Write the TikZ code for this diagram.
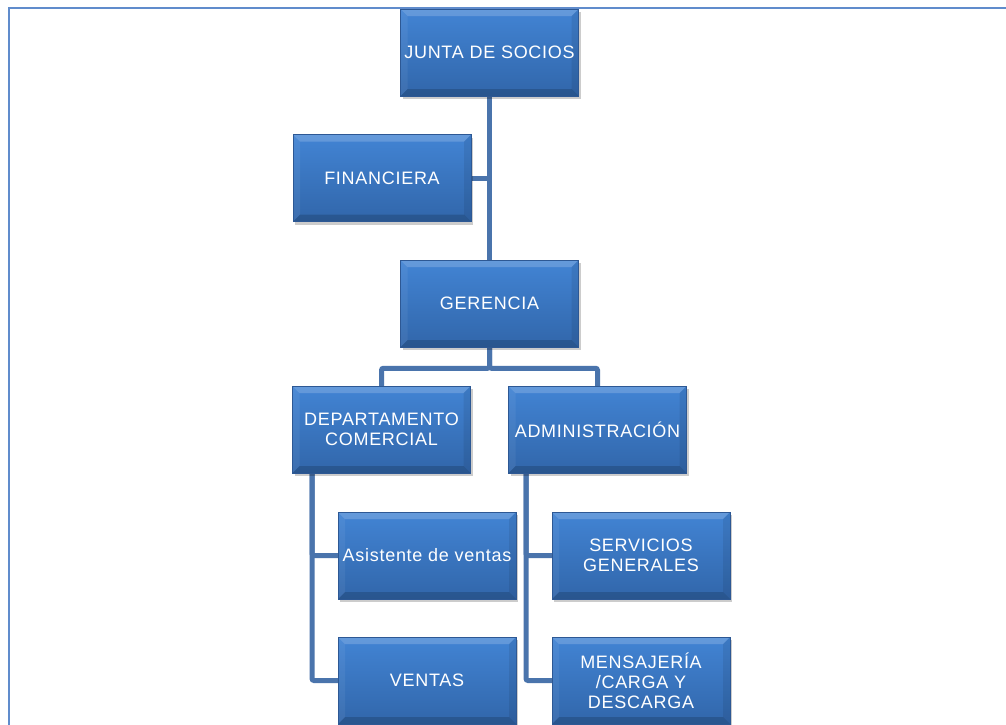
\documentclass[tikz,border=0pt]{standalone}
\usepackage{fontspec}
\setmainfont{Liberation Sans}[LetterSpace=4]
\usetikzlibrary{shadows,backgrounds,calc}
\definecolor{boxtop}{RGB}{66,132,212}
\definecolor{boxbot}{RGB}{49,102,170}
\definecolor{boxedge}{RGB}{45,88,148}
\definecolor{linkblue}{RGB}{74,116,172}
\definecolor{framebl}{RGB}{96,140,204}
\tikzset{
  unit/.style={rectangle, minimum width=178pt, minimum height=87pt, inner sep=2pt,
    top color=boxtop, bottom color=boxbot, draw=boxedge, line width=0.5pt,
    text=white, font=\fontsize{18}{20}\selectfont, align=center,
    drop shadow={shadow xshift=2pt, shadow yshift=-3pt, opacity=0.2, fill=black},
    path picture={
      \fill[white,opacity=0.18] (path picture bounding box.north west) -- (path picture bounding box.north east)
        -- ([xshift=-7pt,yshift=-7pt]path picture bounding box.north east) -- ([xshift=7pt,yshift=-7pt]path picture bounding box.north west) -- cycle;
      \fill[black,opacity=0.16] (path picture bounding box.south west) -- (path picture bounding box.south east)
        -- ([xshift=-7pt,yshift=7pt]path picture bounding box.south east) -- ([xshift=7pt,yshift=7pt]path picture bounding box.south west) -- cycle;
      \fill[white,opacity=0.06] (path picture bounding box.south west) -- (path picture bounding box.north west)
        -- ([xshift=7pt,yshift=-7pt]path picture bounding box.north west) -- ([xshift=7pt,yshift=7pt]path picture bounding box.south west) -- cycle;
      \fill[black,opacity=0.08] (path picture bounding box.south east) -- (path picture bounding box.north east)
        -- ([xshift=-7pt,yshift=-7pt]path picture bounding box.north east) -- ([xshift=-7pt,yshift=7pt]path picture bounding box.south east) -- cycle;
    }},
  link/.style={draw=linkblue, line width=5pt, rounded corners=2pt},
  frameline/.style={draw=framebl, line width=2.5pt}
}
\begin{document}
\begin{tikzpicture}[x=1pt,y=-1pt]
\useasboundingbox (0,0) rectangle (1006,724);
\node[unit] (jds) at (489.5,52.5) {JUNTA DE SOCIOS};
\node[unit] (fin) at (382,178) {FINANCIERA};
\node[unit] (ger) at (489.5,303.5) {GERENCIA};
\node[unit] (dc) at (381.5,429.5) {DEPARTAMENTO\\COMERCIAL};
\node[unit] (adm) at (597.5,429.5) {ADMINISTRACIÓN};
\node[unit] (asis) at (427,555.5) {Asistente de ventas};
\node[unit] (serv) at (641,555.5) {SERVICIOS\\GENERALES};
\node[unit] (ven) at (427,680.5) {VENTAS};
\node[unit] (mens) at (641,680.5) {MENSAJERÍA\\/CARGA Y\\DESCARGA};
\begin{scope}[on background layer]
  \fill[white] (0,0) rectangle (1006,724);
  \draw[frameline] (1012,8) -- (9,8) -- (9,730);
  \draw[link] (jds.south) -- (ger.north);
  \draw[link] (fin.east) -- (fin.east -| jds.south);
  \draw[link] (ger.south) -- ++(0,21) -| (dc.north);
  \draw[link] (ger.south) -- ++(0,21) -| (adm.north);
  \draw[link] ([xshift=-69.5pt]dc.south) |- (asis.west);
  \draw[link] ([xshift=-69.5pt]dc.south) |- (ven.west);
  \draw[link] ([xshift=-71.5pt]adm.south) |- (serv.west);
  \draw[link] ([xshift=-71.5pt]adm.south) |- (mens.west);
\end{scope}
\end{tikzpicture}
\end{document}
